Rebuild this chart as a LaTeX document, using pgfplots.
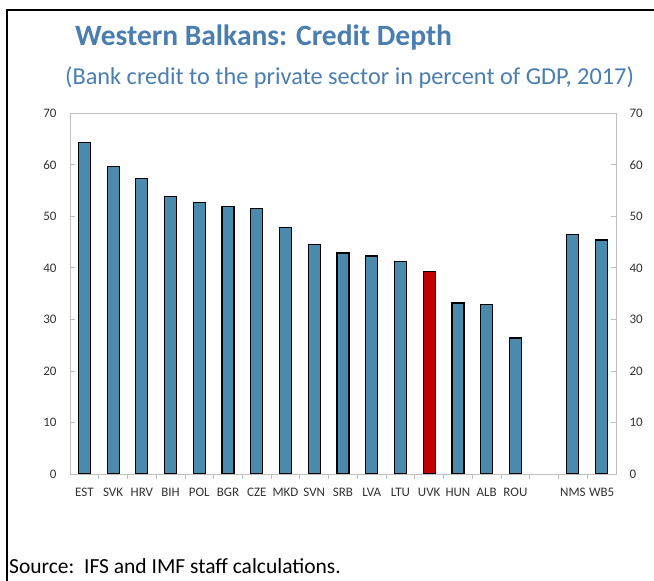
\documentclass[border=0pt]{standalone}
\usepackage{pgfplots}
\pgfplotsset{compat=1.18}
\usepackage{fontspec}
\setmainfont{Carlito}
\definecolor{barblue}{RGB}{74,138,173}
\definecolor{titleblue}{RGB}{74,126,176}
\definecolor{barred}{RGB}{192,0,0}
\definecolor{axgray}{RGB}{191,191,191}
\definecolor{lblgray}{RGB}{50,50,50}
\begin{document}
\begin{tikzpicture}[x=1pt,y=1pt]
\useasboundingbox (0,0) rectangle (654,-581);
\draw[line width=2.5pt] (7,-582) -- (7,-10) -- (655,-10);
\node[anchor=west, font=\fontsize{29.5}{32}\selectfont\bfseries, text=titleblue, inner sep=0] at (75,-37) {Western Balkans: Credit Depth};
\node[anchor=west, font=\fontsize{24.3}{27}\selectfont, text=titleblue, inner sep=0] at (65,-78) {(Bank credit to the private sector in percent of GDP, 2017)};
\node[anchor=west, font=\fontsize{21.5}{24}\selectfont, inner sep=0] at (9,-566) {Source:\ \ IFS and IMF staff calculations.};
\begin{axis}[at={(70pt,-474pt)}, anchor=south west, scale only axis,
  width=546pt, height=360.7pt,
  xmin=-0.5, xmax=18.5, ymin=0, ymax=70,
  axis on top,
  axis line style={axgray, line width=0.9pt},
  tick style={axgray, line width=0.8pt},
  major tick length=5pt, minor tick length=5pt,
  ytick={0,10,...,70}, ytick pos=both, yticklabel pos=left,
  xtick={0,1,...,15,17,18}, xtick pos=bottom,
  xticklabels={EST,SVK,HRV,BIH,POL,BGR,CZE,MKD,SVN,SRB,LVA,LTU,UVK,HUN,ALB,ROU,NMS,WB5},
  minor xtick={0.5,1.5,...,17.5},
  every major x tick/.append style={draw=none},
  /pgf/number format/assume math mode=true,
  tick label style={font=\fontsize{13}{15}\selectfont, text=lblgray},
  yticklabel style={xshift=-10pt},
  xticklabel style={yshift=-6pt},
  ybar, bar width=12pt, bar shift=0pt,
]
\addplot[fill=barblue, draw=black, line width=1.2pt] coordinates {
(0,64.4) (1,59.6) (2,57.4) (3,53.9) (4,52.7) (5,51.9) (6,51.5) (7,47.9)
(8,44.5) (9,42.9) (10,42.3) (11,41.2) (13,33.2) (14,32.9) (15,26.4)
(17,46.5) (18,45.4)};
\addplot[fill=barred, draw=black, line width=1.2pt] coordinates {(12,39.3)};
\end{axis}
\begin{axis}[at={(70pt,-474pt)}, anchor=south west, scale only axis,
  width=546pt, height=360.7pt,
  xmin=-0.5, xmax=18.5, ymin=0, ymax=70,
  axis x line=none, axis y line*=right,
  axis line style={draw=none},
  ytick={0,10,...,70}, major tick length=0pt,
  /pgf/number format/assume math mode=true,
  tick label style={font=\fontsize{13}{15}\selectfont, text=lblgray},
  yticklabel style={xshift=10pt},
]
\addplot[draw=none] coordinates {(0,0)};
\end{axis}
\end{tikzpicture}
\end{document}
